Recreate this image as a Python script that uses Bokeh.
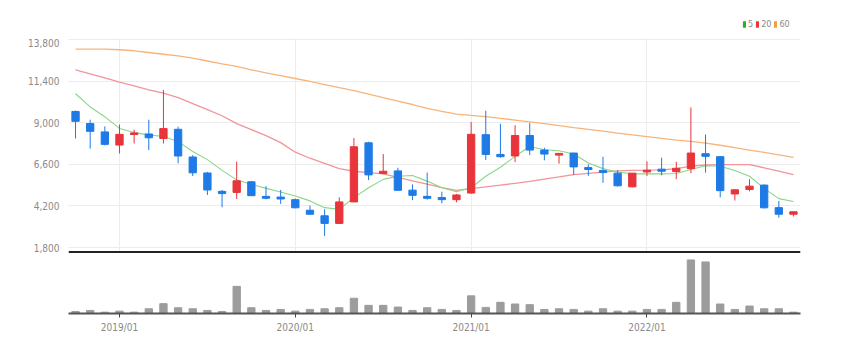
from bokeh.plotting import figure
from bokeh.layouts import column
from bokeh.models import (ColumnDataSource, FixedTicker, Legend, LegendItem,
                          Range1d, NumeralTickFormatter, Span)
from bokeh.embed import file_html
from bokeh.resources import INLINE

dates = ["2018/10", "2018/11", "2018/12",
         "2019/01", "2019/02", "2019/03", "2019/04", "2019/05", "2019/06",
         "2019/07", "2019/08", "2019/09", "2019/10", "2019/11", "2019/12",
         "2020/01", "2020/02", "2020/03", "2020/04", "2020/05", "2020/06",
         "2020/07", "2020/08", "2020/09", "2020/10", "2020/11", "2020/12",
         "2021/01", "2021/02", "2021/03", "2021/04", "2021/05", "2021/06",
         "2021/07", "2021/08", "2021/09", "2021/10", "2021/11", "2021/12",
         "2022/01", "2022/02", "2022/03", "2022/04", "2022/05", "2022/06",
         "2022/07", "2022/08", "2022/09", "2022/10", "2022/11"]

opens = [9650, 8950, 8470, 7710, 8320, 8350, 8090, 8620, 7020, 6100,
         5040, 4980, 5590, 4750, 4710, 4560, 3950, 3630, 3190, 4430,
         7840, 6070, 6220, 5110, 4750, 4680, 4560, 4940, 8310, 7170,
         7080, 8260, 7420, 7130, 7250, 6410, 6240, 6090, 5300, 6160,
         6320, 6180, 6350, 7210, 7040, 4890, 5150, 5400, 4100, 3720]
closes = [9080, 8500, 7750, 8330, 8410, 8130, 8660, 7080, 6110, 5120,
          4910, 5650, 4790, 4640, 4600, 4090, 3720, 3190, 4430, 7610,
          5990, 6200, 5100, 4810, 4640, 4560, 4830, 8330, 7170, 7040,
          8260, 7420, 7190, 7230, 6450, 6300, 6120, 5360, 6090, 6260,
          6200, 6370, 7250, 7060, 5080, 5130, 5340, 4090, 3720, 3860]
highs = [9700, 9170, 8790, 8890, 8600, 9170, 10890, 8770, 7130, 6160,
         5120, 6750, 5630, 5340, 5120, 4620, 4220, 4010, 4700, 8110,
         7900, 7190, 6400, 5440, 6120, 5020, 4890, 9040, 9690, 8940,
         8850, 8980, 7550, 7230, 7270, 6600, 7040, 6260, 6100, 6770,
         6980, 6750, 9880, 8320, 7080, 5140, 5740, 5440, 4490, 3860]
lows = [8090, 7500, 7690, 7230, 7800, 7420, 7800, 6660, 5920, 4830,
        4120, 4600, 4770, 4580, 4320, 4070, 3690, 2470, 3170, 4430,
        5690, 6030, 5100, 4530, 4560, 4350, 4410, 4900, 6850, 6980,
        6730, 7130, 6830, 6640, 5990, 5930, 5530, 5320, 5270, 5930,
        5970, 5740, 6090, 6120, 4700, 4510, 5040, 4050, 3520, 3590]
volumes = [60, 90, 40, 70, 40, 140, 290, 170, 140, 90,
           60, 800, 170, 90, 120, 70, 120, 140, 170, 450,
           240, 240, 190, 90, 170, 120, 90, 520, 180, 330,
           280, 260, 120, 140, 120, 70, 140, 70, 70, 120,
           120, 330, 1580, 1520, 280, 120, 220, 140, 140, 40]
ma5 = [10670, 9910, 9340, 8670, 8430, 8300, 8200, 7910, 7340, 6870,
       6250, 5700, 5450, 5210, 5000, 4770, 4490, 4100, 4010, 4680,
       5250, 5730, 5910, 5950, 5630, 5250, 5020, 5250, 5910, 6430,
       7060, 7630, 7440, 7380, 7190, 6670, 6350, 6160, 6050, 6050,
       6050, 6070, 6300, 6520, 6490, 6240, 5910, 5210, 4620, 4450]
ma20 = [12050, 11820, 11580, 11340, 11130, 10900, 10700, 10450, 10100, 9750,
        9400, 8950, 8600, 8250, 7850, 7300, 6950, 6650, 6350, 6200,
        6120, 6050, 5850, 5650, 5450, 5250, 5100, 5200, 5300, 5400,
        5500, 5620, 5750, 5870, 6000, 6080, 6150, 6220, 6250, 6260,
        6280, 6350, 6500, 6560, 6580, 6580, 6580, 6400, 6200, 6000]
ma60 = [13250, 13250, 13240, 13210, 13150, 13050, 12950, 12850, 12720, 12560,
        12400, 12250, 12050, 11880, 11720, 11550, 11380, 11200, 11020, 10850,
        10650, 10450, 10250, 10050, 9830, 9650, 9500, 9420, 9350, 9250,
        9150, 9050, 8950, 8830, 8720, 8620, 8520, 8400, 8300, 8200,
        8100, 8000, 7920, 7820, 7700, 7560, 7420, 7290, 7150, 7000]
price_ticks = [1800, 4200, 6600, 9000, 11400, 13800]
year_labels = ["2019/01", "2020/01", "2021/01", "2022/01"]
ma_labels = ["5", "20", "60"]
ma_key_colors = ["#22b422", "#e83535", "#f2a03c"]

UP = "#e8343a"
DOWN = "#1e7ae6"
FONT = "Liberation Sans Narrow, DejaVu Sans Condensed, Roboto, sans-serif"

x = list(range(len(dates)))
year_idx = [dates.index(d) for d in year_labels]
src = ColumnDataSource(dict(
    x=x, open=opens, close=closes, high=highs, low=lows, vol=volumes,
    top=[max(o, c) for o, c in zip(opens, closes)],
    bottom=[min(o, c) for o, c in zip(opens, closes)],
    color=[UP if c >= o else DOWN for o, c in zip(opens, closes)],
))

xr = Range1d(-0.48, len(dates) - 0.52)
Y0, Y1 = 1454, 13858

# --- legend strip ---
lg = figure(frame_width=732, frame_height=38, x_range=Range1d(0, 1),
            y_range=Range1d(0, 1), output_backend="svg", toolbar_location=None,
            min_border_left=68, min_border_right=46, min_border_top=0,
            min_border_bottom=0)
lg.outline_line_color = None
lg.axis.visible = False
lg.grid.visible = False
items = []
for lab, col in zip(ma_labels, ma_key_colors):
    # keyed swatch renderer, its data kept out of view
    r = lg.quad(left=[5], right=[6], top=[5], bottom=[4], fill_color=col,
                line_color=None)
    items.append(LegendItem(label=lab, renderers=[r]))
legend = Legend(items=items, orientation="horizontal", location=(674, 9),
                padding=0, margin=0, spacing=2, glyph_width=4, glyph_height=8,
                label_standoff=2, label_text_font_size="9px",
                label_text_font=FONT, label_text_color="#8a8a8a",
                label_height=9, label_width=0, border_line_color=None,
                background_fill_alpha=0)
lg.add_layout(legend)

# --- price panel ---
p = figure(frame_width=732, frame_height=215, x_range=xr,
           y_range=Range1d(Y0, Y1), output_backend="svg",
           toolbar_location=None, min_border_left=68, min_border_right=46,
           min_border_top=0, min_border_bottom=0)
p.outline_line_color = None
p.xaxis.visible = False
p.yaxis.ticker = FixedTicker(ticks=price_ticks)
p.yaxis.formatter = NumeralTickFormatter(format="0,0")
p.yaxis.axis_line_color = None
p.yaxis.major_tick_line_color = None
p.yaxis.minor_tick_line_color = None
p.yaxis.major_label_text_color = "#8a8a8a"
p.yaxis.major_label_text_font_size = "10px"
p.yaxis.major_label_text_font = FONT
p.yaxis.major_label_standoff = 3
p.ygrid.ticker = FixedTicker(ticks=price_ticks)
p.ygrid.grid_line_color = "#ececec"
p.xgrid.ticker = FixedTicker(ticks=year_idx)
p.xgrid.grid_line_color = "#ececec"

p.line(x, ma60, line_color="#f7b47a", line_width=1.3)
p.line(x, ma20, line_color="#f2949a", line_width=1.3)
p.line(x, ma5, line_color="#86d886", line_width=1.1)

p.segment(x0="x", y0="low", x1="x", y1="high", line_color="color",
          line_width=1, source=src)
p.vbar(x="x", width=0.5, top="top", bottom="bottom", fill_color="color",
       line_color="color", source=src)

px_per_unit = (Y1 - Y0) / 215.0
p.add_layout(Span(location=Y0 + 1.2 * px_per_unit, dimension="width",
                  line_color="#222222", line_width=2.5))

# --- volume panel ---
v = figure(frame_width=732, frame_height=59, x_range=xr,
           y_range=Range1d(0, 1740), output_backend="svg",
           toolbar_location=None, min_border_left=68, min_border_right=46,
           min_border_top=1, min_border_bottom=22)
v.outline_line_color = None
v.yaxis.visible = False
v.grid.visible = False
v.vbar(x="x", width=0.5, top="vol", bottom=0, fill_color="#9c9c9c",
       line_color="#9c9c9c", source=src)
v.xaxis.ticker = FixedTicker(ticks=year_idx)
v.xaxis.major_label_overrides = {i: d for i, d in zip(year_idx, year_labels)}
v.xaxis.axis_line_color = "#555555"
v.xaxis.axis_line_width = 2
v.xaxis.major_tick_line_color = "#444444"
v.xaxis.major_tick_in = 0
v.xaxis.major_tick_out = 4
v.xaxis.minor_tick_line_color = None
v.xaxis.major_label_text_color = "#8a8a8a"
v.xaxis.major_label_text_font_size = "10px"
v.xaxis.major_label_text_font = FONT
v.xaxis.major_label_standoff = 4

layout = column(lg, p, v, spacing=0)
open("out.html", "w").write(file_html(layout, INLINE))
